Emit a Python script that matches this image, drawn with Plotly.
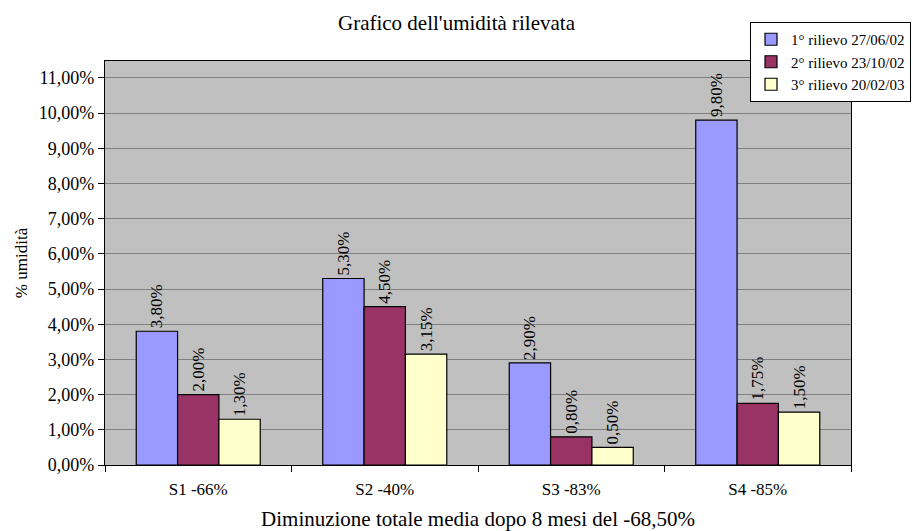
import plotly.graph_objects as go

categories = ["S1 -66%", "S2 -40%", "S3 -83%", "S4 -85%"]
series_names = ["1° rilievo 27/06/02", "2° rilievo 23/10/02", "3° rilievo 20/02/03"]
rilievo1 = [3.80, 5.30, 2.90, 9.80]
rilievo2 = [2.00, 4.50, 0.80, 1.75]
rilievo3 = [1.30, 3.15, 0.50, 1.50]
y_ticks = [0, 1, 2, 3, 4, 5, 6, 7, 8, 9, 10, 11]
y_tick_labels = [f"{v},00%" for v in y_ticks]

colors = ["#9999FF", "#993366", "#FFFFCC"]
FONT = "Liberation Serif"

def fmt(v):
    return f"{v:.2f}".replace(".", ",") + "%"

fig = go.Figure()
for name, vals, col in zip(series_names, [rilievo1, rilievo2, rilievo3], colors):
    fig.add_trace(go.Bar(
        x=categories, y=vals, name=name,
        marker=dict(color=col, line=dict(color="#000000", width=1.2)),
        text=[fmt(v) for v in vals],
        textposition="outside", textangle=-90,
        textfont=dict(family=FONT, size=17, color="#000000"),
        constraintext="none", cliponaxis=False,
    ))

L, R, T, B = 105, 62, 61, 66
W, H = 913, 531
pw, ph = W - L - R, H - T - B

fig.update_layout(
    width=W, height=H,
    margin=dict(l=L, r=R, t=T, b=B, autoexpand=False),
    paper_bgcolor="#FFFFFF", plot_bgcolor="#C0C0C0",
    barmode="group", bargap=0.335, bargroupgap=0,
    font=dict(family=FONT, size=15, color="#000000"),
    title=dict(text="Grafico dell'umidità rilevata", x=0.5, xanchor="center",
               y=1 - 23 / H, yanchor="middle", font=dict(family=FONT, size=21)),
    showlegend=True,
    legend=dict(x=(911 - L) / pw, xanchor="right", y=(H - B - 22) / ph, yanchor="top",
                bgcolor="#FFFFFF", bordercolor="#000000", borderwidth=1,
                font=dict(family=FONT, size=15), tracegroupgap=0,
                itemwidth=30),
)
fig.update_xaxes(
    showline=True, linecolor="#000000", linewidth=1.2, mirror=True,
    ticks="outside", ticklen=6, tickcolor="#000000", tickson="boundaries",
    tickfont=dict(family=FONT, size=17), ticklabelstandoff=8,
    title=dict(text="Diminuzione totale media dopo 8 mesi del -68,50%",
               font=dict(family=FONT, size=21), standoff=14),
)
fig.update_yaxes(
    range=[0, 11.48], tickvals=y_ticks, ticktext=y_tick_labels,
    showline=True, linecolor="#000000", linewidth=1.2, mirror=True,
    ticks="outside", ticklen=6, tickcolor="#000000",
    showgrid=True, gridcolor="#808080", gridwidth=1, zeroline=False,
    tickfont=dict(family=FONT, size=18),
    title=dict(text="% umidità", font=dict(family=FONT, size=17), standoff=6),
)

fig.write_html("out.html", config={"displayModeBar": False},
               post_script="document.body.style.margin='0';")
